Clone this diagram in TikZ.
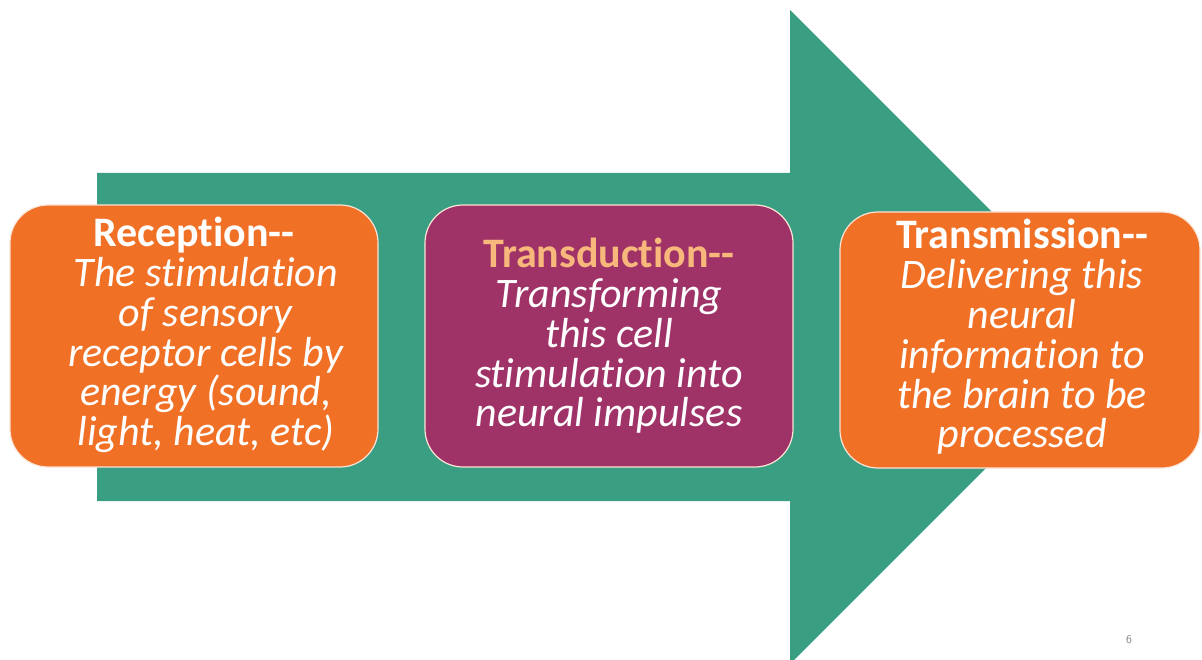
\documentclass[tikz,border=0pt]{standalone}
\usepackage{fontspec}
\setmainfont{Carlito}[Ligatures=NoCommon]
\definecolor{arrowgreen}{HTML}{3A9F82}
\definecolor{boxorange}{HTML}{F07025}
\definecolor{boxpurple}{HTML}{9F3368}
\definecolor{headpeach}{HTML}{F8B87C}
\definecolor{edgepale}{HTML}{FBE3D6}
\begin{document}
\begin{tikzpicture}[x=1pt,y=-1pt,
  stagebox/.style={rounded corners=38pt, draw=edgepale, line width=1.2pt,
    inner sep=0pt},
  stagetext/.style={align=center, text=white, inner sep=0pt,
    font=\fontsize{42}{39.8}\selectfont},
  pagenum/.style={text=gray, font=\fontsize{12}{13}\selectfont\sffamily}]
\useasboundingbox (0,0) rectangle (1202,660);
% big arrow
\fill[arrowgreen] (97,173) -- (790,173) -- (790,10) -- (1117,337)
  -- (790,664) -- (790,501) -- (97,501) -- cycle;
% stage boxes
\node[stagebox, fill=boxorange, minimum width=368pt, minimum height=262pt]
  (rec) at (194,336) {};
\node[stagebox, fill=boxpurple, minimum width=368pt, minimum height=262pt]
  (tdn) at (609,336) {};
\node[stagebox, fill=boxorange, minimum width=360pt, minimum height=256pt]
  (trm) at (1020,340) {};
% texts
\node[stagetext] (rectext) at ([xshift=12pt,yshift=1pt]rec.center)
  {\hspace*{-24pt}\textbf{Reception-{}-}\\ \textit{The stimulation}\\ \textit{of sensory}\\
   \textit{receptor cells by}\\ \textit{energy (sound,}\\ \textit{light, heat, etc)}};
\node[stagetext] (tdntext) at ([yshift=0pt]tdn.center)
  {\textcolor{headpeach}{\textbf{Transduction-{}-}}\\ \textit{Transforming}\\
   \textit{this cell}\\ \textit{stimulation into}\\ \textit{neural impulses}};
\node[stagetext] (trmtext) at ([xshift=2pt,yshift=3pt]trm.center)
  {\textbf{Transmission-{}-}\\ \textit{Delivering this}\\ \textit{neural}\\
   \textit{information to}\\ \textit{the brain to be}\\ \textit{processed}};
\node[pagenum] (pg) at (1129,640) {6};
\end{tikzpicture}
\end{document}
